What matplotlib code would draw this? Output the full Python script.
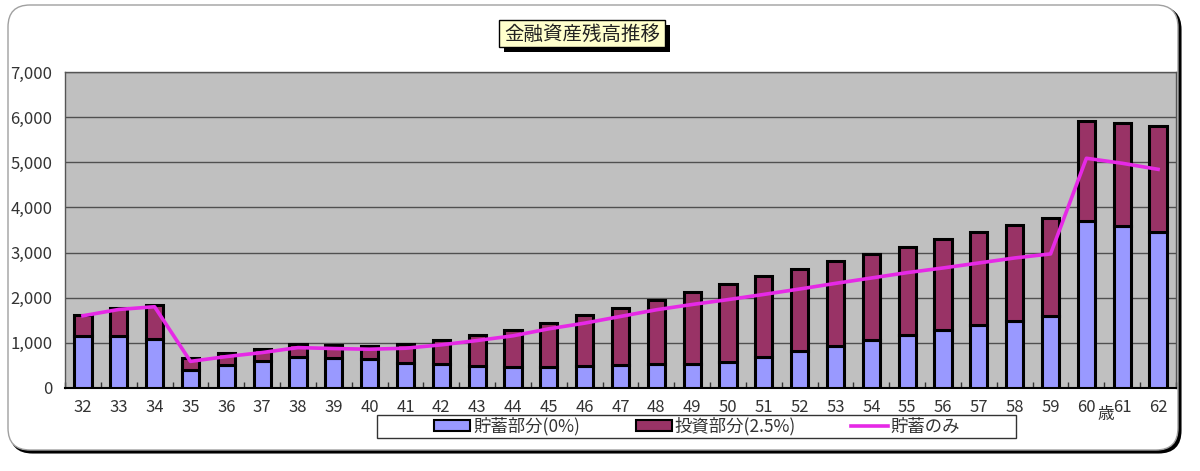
import matplotlib
matplotlib.use("Agg")
import matplotlib.pyplot as plt
import numpy as np
from matplotlib.patches import FancyBboxPatch, Rectangle, Patch
from matplotlib.lines import Line2D

plt.rcParams['font.family'] = ['Noto Sans CJK JP', 'DejaVu Sans']

# ---- data ----
ages = ["32", "33", "34", "35", "36", "37", "38", "39", "40", "41", "42", "43", "44", "45", "46",
        "47", "48", "49", "50", "51", "52", "53", "54", "55", "56", "57", "58", "59", "60", "61", "62"]
savings_part = [1150, 1150, 1090, 400, 520, 600, 680, 670, 635, 560, 530, 490, 460, 475, 490,
                520, 530, 540, 565, 685, 815, 925, 1055, 1165, 1285, 1395, 1485, 1595, 3700, 3580, 3455]
invest_part = [460, 615, 755, 270, 255, 275, 290, 275, 293, 410, 538, 682, 815, 967, 1122,
               1252, 1412, 1580, 1730, 1787, 1828, 1880, 1923, 1967, 2010, 2055, 2120, 2167, 2210, 2290, 2345]
savings_only = [1600, 1740, 1800, 590, 696, 785, 895, 874, 859, 881, 956, 1052, 1156, 1311, 1437,
                1585, 1733, 1850, 1958, 2073, 2193, 2318, 2437, 2556, 2659, 2770, 2881, 2970, 5089, 4978, 4844]
yticks = [0, 1000, 2000, 3000, 4000, 5000, 6000, 7000]
title = "金融資産残高推移"
legend_labels = ["貯蓄部分(0%)", "投資部分(2.5%)", "貯蓄のみ"]
unit_label = "歳"

W, H = 1200, 471
fig = plt.figure(figsize=(W / 100, H / 100), dpi=100)
fig.patch.set_facecolor("white")

def px(x, y_top):
    return x / 100.0, (H - y_top) / 100.0

# outer rounded frame with shadow
x0, y0 = px(8, 450)
bw, bh = (1178 - 8) / 100.0, (450 - 5) / 100.0
shadow = FancyBboxPatch((x0 + 0.025, y0 - 0.025), bw, bh,
                        boxstyle="round,pad=0,rounding_size=0.22",
                        transform=fig.dpi_scale_trans, facecolor="black",
                        edgecolor="black", lw=1.5, zorder=-20)
frame = FancyBboxPatch((x0, y0), bw, bh,
                       boxstyle="round,pad=0,rounding_size=0.22",
                       transform=fig.dpi_scale_trans, facecolor="white",
                       edgecolor="#a0a0a0", lw=1.0, zorder=-19)
fig.add_artist(shadow)
fig.add_artist(frame)

# axes
ax_left, ax_right, ax_top, ax_bot = 65, 1176, 72, 388
ax = fig.add_axes([ax_left / W, (H - ax_bot) / H, (ax_right - ax_left) / W, (ax_bot - ax_top) / H])
ax.set_facecolor("#c0c0c0")

x = np.arange(len(ages))
bw_bar = 0.48
ax.bar(x, savings_part, width=bw_bar, color="#9999ff", edgecolor="black", lw=2.2, zorder=3)
ax.bar(x, invest_part, width=bw_bar, bottom=savings_part, color="#993366",
       edgecolor="black", lw=2.2, zorder=3)
ax.plot(x, savings_only, color="#e629e6", lw=2.6, zorder=4, solid_joinstyle="round")

ax.set_xlim(-0.5, len(ages) - 0.5)
ax.set_ylim(0, 7000)
ax.set_yticks(yticks)
ax.set_yticklabels([f"{v:,}" for v in yticks], fontsize=12, color="#333333")
ax.yaxis.grid(True, color="#505050", lw=1.0, zorder=1)
ax.set_axisbelow(True)
ax.tick_params(axis="y", length=0, pad=9)

ax.set_xticks(x)
ax.set_xticklabels(ages, fontsize=12, color="#333333")
ax.set_xticks(np.arange(-0.5, len(ages)), minor=True)
ax.tick_params(axis="x", which="major", length=0, pad=8)
ax.tick_params(axis="x", which="minor", length=4, direction="in", color="#333333", width=1)

for s in ["top", "left", "right"]:
    ax.spines[s].set_color("#555555")
    ax.spines[s].set_linewidth(1.0)
ax.spines["bottom"].set_color("black")
ax.spines["bottom"].set_linewidth(1.5)

# unit label
fig.text(1106 / W, (H - 414) / H, unit_label, fontsize=12, color="#333333",
         ha="center", va="center")

# title box with shadow
tx0, ty0 = px(499, 47)
tw, th = (665 - 499) / 100.0, (47 - 20) / 100.0
fig.add_artist(Rectangle((tx0 + 0.05, ty0 - 0.05), tw, th, transform=fig.dpi_scale_trans,
                         facecolor="black", edgecolor="black", lw=0, zorder=5))
fig.add_artist(Rectangle((tx0, ty0), tw, th, transform=fig.dpi_scale_trans,
                         facecolor="#ffffcc", edgecolor="black", lw=1.0, zorder=6))
fig.text(582 / W, (H - 34) / H, title, fontsize=14, color="#222222",
         ha="center", va="center", zorder=7)

# legend box
lx0, ly0 = px(377, 438)
fig.add_artist(Rectangle((lx0, ly0), (1016 - 377) / 100.0, (438 - 415) / 100.0,
                         transform=fig.dpi_scale_trans, facecolor="white",
                         edgecolor="#333333", lw=1.0, zorder=5))
handles = [Patch(facecolor="#9999ff", edgecolor="black", lw=1.5),
           Patch(facecolor="#993366", edgecolor="black", lw=1.5),
           Line2D([0], [0], color="#e629e6", lw=2.6)]
leg = fig.legend(handles, legend_labels, ncol=3, frameon=False,
                 loc="center", bbox_to_anchor=(697 / W, (H - 426.5) / H),
                 fontsize=12.5, handlelength=2.1, handleheight=0.6, handletextpad=0.15,
                 columnspacing=3.2, borderpad=0.1)
leg.set_zorder(8)
for t in leg.get_texts():
    t.set_color("#333333")

fig.savefig("out.png", dpi=100)
